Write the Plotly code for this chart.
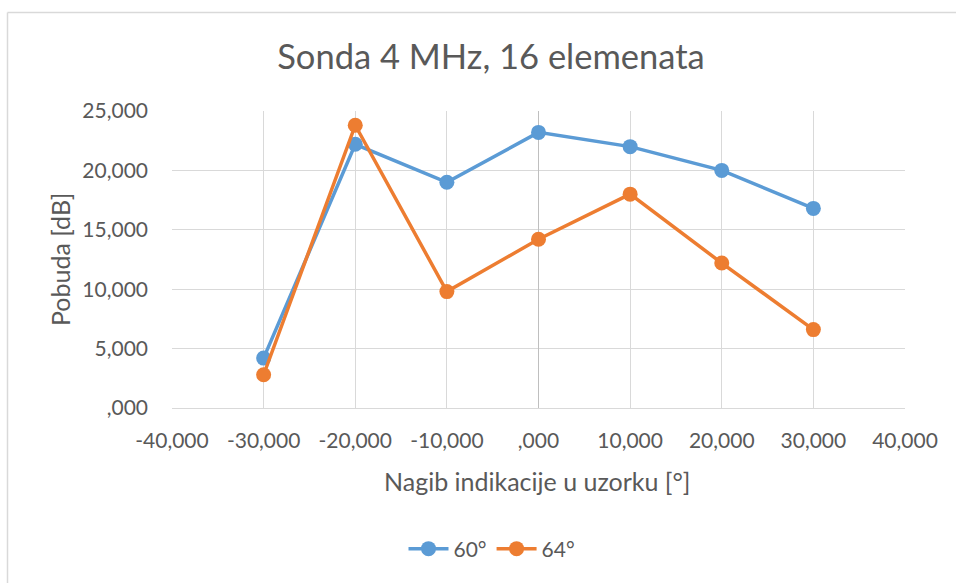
import plotly.graph_objects as go

# Tilt angle of the indication in the sample [deg]
angles = [-30, -20, -10, 0, 10, 20, 30]

# Excitation level [dB] for the two refraction angles
pobuda_60 = [4.2, 22.2, 19.0, 23.2, 22.0, 20.0, 16.8]
pobuda_64 = [2.8, 23.8, 9.8, 14.2, 18.0, 12.2, 6.6]

x_tick_vals = [-40, -30, -20, -10, 0, 10, 20, 30, 40]
x_tick_labels = ["-40,000", "-30,000", "-20,000", "-10,000", ",000",
                 "10,000", "20,000", "30,000", "40,000"]
y_tick_vals = [0, 5, 10, 15, 20, 25]
y_tick_labels = [",000", "5,000", "10,000", "15,000", "20,000", "25,000"]

FONT = "Lato, 'Open Sans', sans-serif"
TEXT = "#595959"
GRID = "#D9D9D9"
BLUE = "#5B9BD5"
ORANGE = "#ED7D31"

fig = go.Figure()
fig.add_trace(go.Scatter(
    x=angles, y=pobuda_60, name="60°", mode="lines+markers",
    line=dict(color=BLUE, width=3.5),
    marker=dict(color=BLUE, size=15),
))
fig.add_trace(go.Scatter(
    x=angles, y=pobuda_64, name="64°", mode="lines+markers",
    line=dict(color=ORANGE, width=3.5),
    marker=dict(color=ORANGE, size=15),
))

W, H = 956, 583
L, R, T, B = 172, 51, 111, 175
pw, ph = W - L - R, H - T - B


def px(xpix):
    return (xpix - L) / pw


def py(ypix):
    return (H - B - ypix) / ph


fig.update_layout(
    width=W, height=H,
    margin=dict(l=L, r=R, t=T, b=B, pad=0),
    paper_bgcolor="white", plot_bgcolor="white",
    font=dict(family=FONT, color=TEXT, size=21),
    title=dict(text="Sonda 4 MHz, 16 elemenata", x=491 / W, xanchor="center",
               y=1 - 57 / H, yanchor="middle",
               font=dict(family=FONT, size=34.5, color=TEXT)),
    showlegend=True,
    legend=dict(orientation="h", x=px(492), xanchor="center",
                y=1 - 549 / H, yref="container", yanchor="middle",
                font=dict(family=FONT, size=21, color=TEXT),
                itemwidth=40, tracegroupgap=0),
    xaxis=dict(
        range=[-40, 40], tickvals=x_tick_vals, ticktext=x_tick_labels,
        showgrid=True, gridcolor=GRID, gridwidth=1,
        zeroline=True, zerolinecolor="#BFBFBF", zerolinewidth=1,
        showline=False, ticks="", ticklabelstandoff=18,
        tickfont=dict(family=FONT, size=21, color=TEXT),
        fixedrange=True,
    ),
    yaxis=dict(
        range=[0, 25], tickvals=y_tick_vals, ticktext=y_tick_labels,
        showgrid=True, gridcolor=GRID, gridwidth=1,
        zeroline=True, zerolinecolor=GRID, zerolinewidth=1,
        showline=False, ticks="", ticklabelstandoff=23,
        tickfont=dict(family=FONT, size=21, color=TEXT),
        fixedrange=True,
    ),
    annotations=[
        dict(text="Nagib indikacije u uzorku [°]", xref="paper", yref="paper",
             x=px(537), y=py(481), xanchor="center", yanchor="middle",
             showarrow=False, font=dict(family=FONT, size=25, color=TEXT)),
        dict(text="Pobuda [dB]", xref="paper", yref="paper",
             x=px(60), y=py(260), xanchor="center", yanchor="middle",
             textangle=-90, showarrow=False,
             font=dict(family=FONT, size=25, color=TEXT)),
    ],
    shapes=[
        dict(type="line", xref="paper", yref="paper",
             x0=px(7.5), x1=px(W + 5), y0=py(12.5), y1=py(12.5),
             line=dict(color=GRID, width=1.5)),
        dict(type="line", xref="paper", yref="paper",
             x0=px(7.5), x1=px(7.5), y0=py(12.5), y1=py(H + 5),
             line=dict(color=GRID, width=1.5)),
    ],
)

fig.write_html("out.html", config={"displayModeBar": False})
